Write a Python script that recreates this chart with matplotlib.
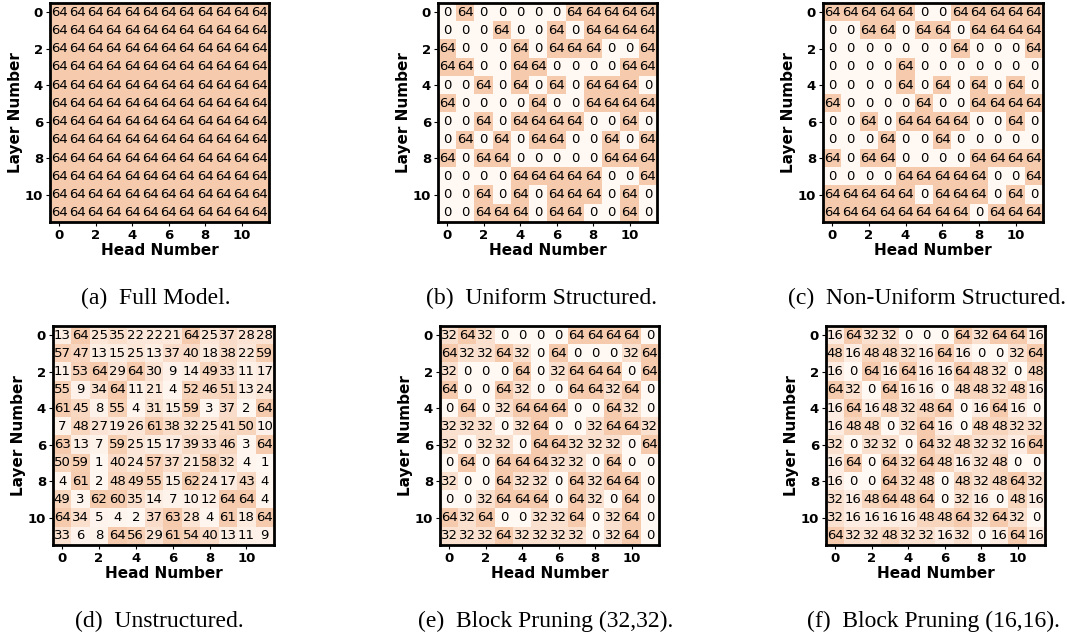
import numpy as np
import matplotlib
matplotlib.use("Agg")
import matplotlib.pyplot as plt
from matplotlib.colors import LinearSegmentedColormap

# head sizes per (layer, head) for each pruning scheme
full_model = [[64] * 12 for _ in range(12)]

uniform = [
    [0, 64, 0, 0, 0, 0, 0, 64, 64, 64, 64, 64],
    [0, 0, 0, 64, 0, 0, 64, 0, 64, 64, 64, 64],
    [64, 0, 0, 0, 64, 0, 64, 64, 64, 0, 0, 64],
    [64, 64, 0, 0, 64, 64, 0, 0, 0, 0, 64, 64],
    [0, 0, 64, 0, 64, 0, 64, 0, 64, 64, 64, 0],
    [64, 0, 0, 0, 0, 64, 0, 0, 64, 64, 64, 64],
    [0, 0, 64, 0, 64, 64, 64, 64, 0, 0, 64, 0],
    [0, 64, 0, 64, 0, 64, 64, 0, 0, 64, 0, 64],
    [64, 0, 64, 64, 0, 0, 0, 0, 0, 64, 64, 64],
    [0, 0, 0, 0, 64, 64, 64, 64, 64, 0, 0, 64],
    [0, 0, 64, 0, 64, 0, 64, 64, 64, 0, 64, 0],
    [0, 0, 64, 64, 64, 0, 64, 64, 0, 0, 64, 0],
]

non_uniform = [
    [64, 64, 64, 64, 64, 0, 0, 64, 64, 64, 64, 64],
    [0, 0, 64, 64, 0, 64, 64, 0, 64, 64, 64, 64],
    [0, 0, 0, 0, 0, 0, 0, 64, 0, 0, 0, 64],
    [0, 0, 0, 0, 64, 0, 0, 0, 0, 0, 0, 0],
    [0, 0, 0, 0, 64, 0, 64, 0, 64, 0, 64, 0],
    [64, 0, 0, 0, 0, 64, 0, 0, 64, 64, 64, 64],
    [0, 0, 64, 0, 64, 64, 64, 64, 0, 0, 64, 0],
    [0, 0, 0, 64, 0, 0, 64, 0, 0, 0, 0, 0],
    [64, 0, 64, 64, 0, 0, 0, 0, 64, 64, 64, 64],
    [0, 0, 0, 0, 64, 64, 64, 64, 64, 0, 0, 64],
    [64, 64, 64, 64, 64, 0, 64, 64, 64, 0, 64, 0],
    [64, 64, 64, 64, 64, 64, 64, 64, 0, 64, 64, 64],
]

unstructured = [
    [13, 64, 25, 35, 22, 22, 21, 64, 25, 37, 28, 28],
    [57, 47, 13, 15, 25, 13, 37, 40, 18, 38, 22, 59],
    [11, 53, 64, 29, 64, 30, 9, 14, 49, 33, 11, 17],
    [55, 9, 34, 64, 11, 21, 4, 52, 46, 51, 13, 24],
    [61, 45, 8, 55, 4, 31, 15, 59, 3, 37, 2, 64],
    [7, 48, 27, 19, 26, 61, 38, 32, 25, 41, 50, 10],
    [63, 13, 7, 59, 25, 15, 17, 39, 33, 46, 3, 64],
    [50, 59, 1, 40, 24, 57, 37, 21, 58, 32, 4, 1],
    [4, 61, 2, 48, 49, 55, 15, 62, 24, 17, 43, 4],
    [49, 3, 62, 60, 35, 14, 7, 10, 12, 64, 64, 4],
    [64, 34, 5, 4, 2, 37, 63, 28, 4, 61, 18, 64],
    [33, 6, 8, 64, 56, 29, 61, 54, 40, 13, 11, 9],
]

block32 = [
    [32, 64, 32, 0, 0, 0, 0, 64, 64, 64, 64, 0],
    [64, 32, 32, 64, 32, 0, 64, 0, 0, 0, 32, 64],
    [32, 0, 0, 0, 64, 0, 32, 64, 64, 64, 0, 64],
    [64, 0, 0, 64, 32, 0, 0, 64, 64, 32, 64, 0],
    [0, 64, 0, 32, 64, 64, 64, 0, 0, 64, 32, 0],
    [32, 32, 32, 0, 32, 64, 0, 0, 32, 64, 64, 32],
    [32, 0, 32, 32, 0, 64, 64, 32, 32, 32, 0, 64],
    [0, 64, 0, 64, 64, 64, 32, 32, 0, 64, 0, 0],
    [32, 0, 0, 64, 32, 32, 0, 64, 32, 64, 64, 0],
    [0, 0, 32, 64, 64, 64, 0, 64, 32, 0, 64, 0],
    [64, 32, 64, 0, 0, 32, 32, 64, 0, 32, 64, 0],
    [32, 32, 32, 64, 32, 32, 32, 32, 0, 32, 64, 0],
]

block16 = [
    [16, 64, 32, 32, 0, 0, 0, 64, 32, 64, 64, 16],
    [48, 16, 48, 48, 32, 16, 64, 16, 0, 0, 32, 64],
    [16, 0, 64, 16, 64, 16, 16, 64, 48, 32, 0, 48],
    [64, 32, 0, 64, 16, 16, 0, 48, 48, 32, 48, 16],
    [16, 64, 16, 48, 32, 48, 64, 0, 16, 64, 16, 0],
    [16, 48, 48, 0, 32, 64, 16, 0, 48, 48, 32, 32],
    [32, 0, 32, 32, 0, 64, 32, 48, 32, 32, 16, 64],
    [16, 64, 0, 64, 32, 64, 48, 16, 32, 48, 0, 0],
    [16, 0, 0, 64, 32, 48, 0, 48, 32, 48, 64, 32],
    [32, 16, 48, 64, 48, 64, 0, 32, 16, 0, 48, 16],
    [32, 16, 16, 16, 16, 48, 48, 64, 32, 64, 32, 0],
    [64, 32, 32, 48, 32, 32, 16, 32, 0, 16, 64, 16],
]

captions = ["(a)  Full Model.", "(b)  Uniform Structured.", "(c)  Non-Uniform Structured.",
            "(d)  Unstructured.", "(e)  Block Pruning (32,32).", "(f)  Block Pruning (16,16)."]
panels = [full_model, uniform, non_uniform, unstructured, block32, block16]

W, H = 1067, 635
fig = plt.figure(figsize=(W / 100, H / 100), dpi=100)

cmap = LinearSegmentedColormap.from_list("peach", ["#fff8f3", "#f6cbad"])

# axes boxes in pixels: left, top, width, height
boxes = [(50, 3, 219, 219), (438, 3, 219, 219), (823, 3, 220, 219),
         (53, 326, 221, 219), (440, 326, 219, 219), (826, 326, 219, 219)]
cap_x = [156, 542, 927, 159, 546, 933]
cap_y = [298, 298, 298, 621, 621, 621]

for data, box, cap, cx, cy in zip(panels, boxes, captions, cap_x, cap_y):
    l, t, w, h = box
    ax = fig.add_axes([l / W, 1 - (t + h) / H, w / W, h / H])
    arr = np.array(data)
    ax.imshow(arr, cmap=cmap, vmin=0, vmax=64, aspect="auto")
    for i in range(arr.shape[0]):
        for j in range(arr.shape[1]):
            ax.text(j, i, str(arr[i, j]), ha="center", va="center", fontsize=9.5)
    ax.set_xticks(range(0, 12, 2))
    ax.set_yticks(range(0, 12, 2))
    ax.tick_params(labelsize=9.5, length=3, pad=2)
    for lab in ax.get_xticklabels() + ax.get_yticklabels():
        lab.set_fontweight("bold")
    ax.set_xlabel("Head Number", fontsize=11, fontweight="bold", labelpad=1)
    ax.set_ylabel("Layer Number", fontsize=11, fontweight="bold", labelpad=1)
    for s in ax.spines.values():
        s.set_linewidth(2)
    fig.text(cx / W, 1 - cy / H, cap, ha="center", va="center",
             fontsize=17, family="Liberation Serif")

fig.savefig("out.png", dpi=100)
